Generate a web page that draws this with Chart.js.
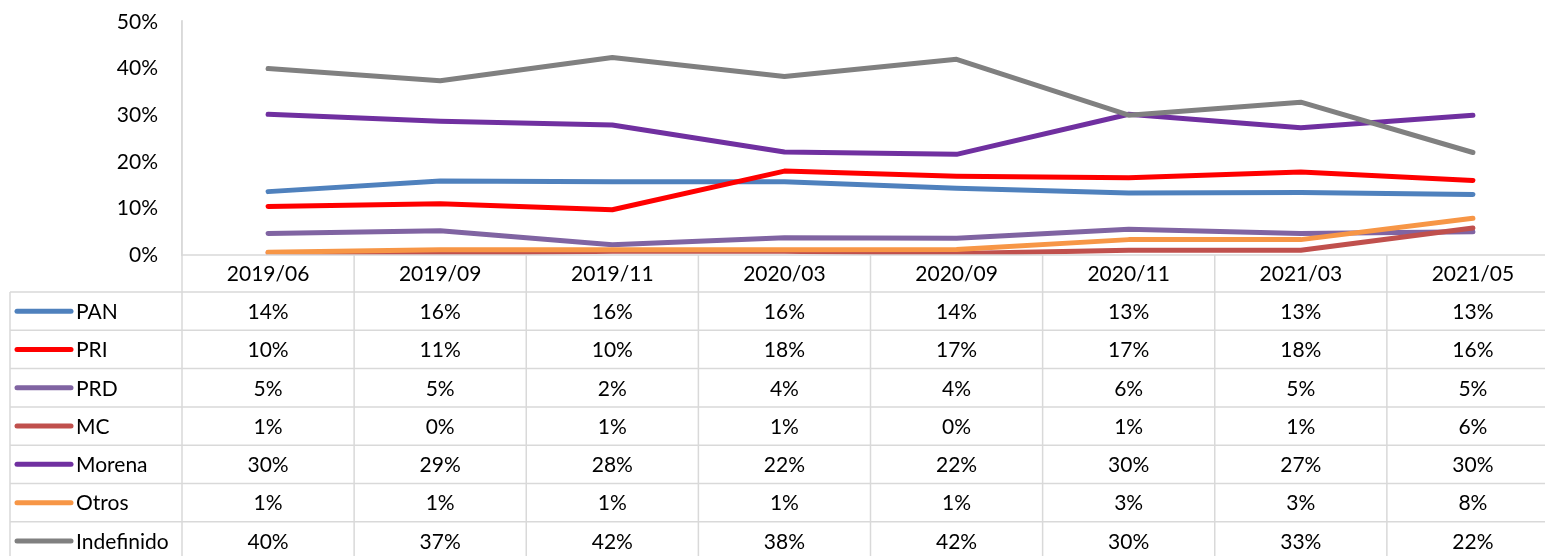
<!DOCTYPE html>
<html lang="es">
<head>
  <meta charset="UTF-8" />
  <title>Preferencia partidista</title>
  <script src="https://cdn.jsdelivr.net/npm/chart.js"></script>
  <style>
    html, body {
      margin: 0;
      padding: 0;
      background: #fff;
      overflow: hidden;
    }
    .wrap {
      width: 1560px;
      height: 556px;
    }
  </style>
</head>
<body>
  <div class="wrap">
    <canvas id="chart" width="1560" height="556"></canvas>
  </div>

  <script>
    const periods = ['2019/06', '2019/09', '2019/11', '2020/03', '2020/09', '2020/11', '2021/03', '2021/05'];
    const yTicks = [0, 10, 20, 30, 40, 50];

    const pan = [13.6, 15.9, 15.7, 15.7, 14.3, 13.3, 13.4, 13.0];
    const pri = [10.4, 11.0, 9.7, 18.0, 16.9, 16.6, 17.8, 16.0];
    const prd = [4.6, 5.2, 2.2, 3.7, 3.6, 5.5, 4.6, 5.0];
    const mc = [0.5, 0.3, 0.8, 0.8, 0.3, 1.0, 1.0, 5.8];
    const morena = [30.2, 28.7, 27.9, 22.1, 21.6, 30.2, 27.3, 30.0];
    const otros = [0.6, 1.1, 1.1, 1.1, 1.2, 3.3, 3.3, 7.9];
    const indefinido = [40.0, 37.4, 42.4, 38.3, 42.0, 30.0, 32.8, 22.0];

    const seriesNames = ['PAN', 'PRI', 'PRD', 'MC', 'Morena', 'Otros', 'Indefinido'];
    const seriesData = [pan, pri, prd, mc, morena, otros, indefinido];
    const seriesColors = ['#4F81BD', '#FF0000', '#8064A2', '#C0504D', '#7030A0', '#F79646', '#808080'];

    const FONT = 'Lato, "Open Sans", sans-serif';
    const GRID = '#d9d9d9';
    const headerTop = 255;
    const tableTop = 292;
    const rowH = 38.3;

    // data table under the plot, drawn like Excel's "data table with legend keys"
    const dataTable = {
      id: 'dataTable',
      afterDraw(chart) {
        const ctx = chart.ctx;
        const x = chart.scales.x;
        const area = chart.chartArea;
        const W = chart.width, H = chart.height;
        const colW = (area.right - area.left) / periods.length;

        ctx.save();
        ctx.strokeStyle = GRID;
        ctx.lineWidth = 1.5;
        ctx.beginPath();
        ctx.moveTo(area.left, headerTop); ctx.lineTo(W, headerTop);
        for (let r = 0; r <= seriesNames.length; r++) {
          const y = tableTop + r * rowH;
          ctx.moveTo(10, y); ctx.lineTo(W, y);
        }
        ctx.moveTo(10, tableTop); ctx.lineTo(10, H);
        ctx.moveTo(area.left, 20); ctx.lineTo(area.left, H);
        for (let k = 1; k <= periods.length; k++) {
          const xx = area.left + k * colW;
          ctx.moveTo(xx, headerTop); ctx.lineTo(xx, H);
        }
        ctx.stroke();

        ctx.fillStyle = '#000';
        ctx.font = '21px ' + FONT;
        ctx.textBaseline = 'middle';
        ctx.textAlign = 'center';
        periods.forEach((p, i) => {
          ctx.fillText(p, x.getPixelForValue(i), (headerTop + tableTop) / 2 + 1);
        });

        seriesNames.forEach((name, r) => {
          const yc = tableTop + r * rowH + rowH / 2;
          ctx.strokeStyle = seriesColors[r];
          ctx.lineWidth = 5;
          ctx.lineCap = 'round';
          ctx.beginPath();
          ctx.moveTo(17, yc); ctx.lineTo(71, yc);
          ctx.stroke();
          ctx.textAlign = 'left';
          ctx.fillText(name, 76, yc + 1);
          ctx.textAlign = 'center';
          seriesData[r].forEach((v, i) => {
            ctx.fillText(Math.round(v) + '%', x.getPixelForValue(i), yc + 1);
          });
        });
        ctx.restore();
      }
    };

    new Chart(document.getElementById('chart'), {
      type: 'line',
      data: {
        labels: periods,
        datasets: seriesNames.map((name, i) => ({
          label: name,
          data: seriesData[i],
          borderColor: seriesColors[i],
          backgroundColor: seriesColors[i],
          borderWidth: 5,
          borderCapStyle: 'round',
          borderJoinStyle: 'round',
          pointRadius: 0,
          tension: 0,
          order: seriesNames.length - i
        }))
      },
      options: {
        responsive: false,
        animation: false,
        layout: { padding: { top: 22, bottom: 301, left: 0, right: 1 } },
        plugins: {
          legend: { display: false },
          tooltip: { enabled: false }
        },
        scales: {
          x: { display: false, offset: true },
          y: {
            min: 0,
            max: 50,
            afterBuildTicks: s => { s.ticks = yTicks.map(v => ({ value: v })); },
            afterFit: s => { s.width = 182; s.paddingTop = 0; s.paddingBottom = 0; },
            grid: { display: false, drawTicks: false },
            border: { display: true, color: GRID, width: 1.5 },
            ticks: {
              padding: 24,
              color: '#000',
              font: { family: FONT, size: 21 },
              callback: v => v + '%'
            }
          }
        }
      },
      plugins: [dataTable]
    });
  </script>
</body>
</html>
